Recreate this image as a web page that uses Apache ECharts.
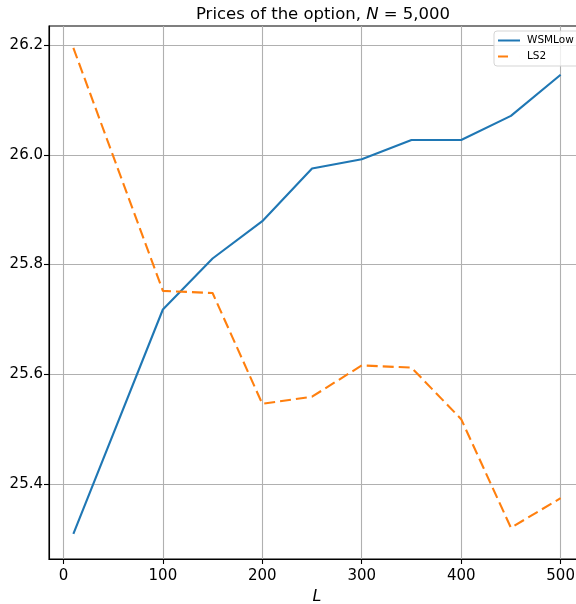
<!DOCTYPE html>
<html>
<head>
<meta charset="utf-8">
<script src="https://cdn.jsdelivr.net/npm/echarts@6/dist/echarts.min.js"></script>
<style>
html,body{margin:0;padding:0;background:#fff;}
#chart{width:576px;height:604px;}
</style>
</head>
<body>
<div id="chart"></div>
<script>
const L_values = [10, 100, 150, 200, 250, 300, 350, 400, 450, 500];
const wsmLow = [25.309, 25.718, 25.811, 25.879, 25.975, 25.992, 26.027, 26.027, 26.071, 26.146];
const ls2 = [26.195, 25.752, 25.748, 25.546, 25.559, 25.616, 25.612, 25.518, 25.320, 25.374];
const xTicks = [0, 100, 200, 300, 400, 500];
const yTicks = [25.4, 25.6, 25.8, 26.0, 26.2];

const font = 'DejaVu Sans';
const chart = echarts.init(document.getElementById('chart'), null, {renderer: 'canvas'});
chart.setOption({
  animation: false,
  backgroundColor: '#ffffff',
  textStyle: {fontFamily: font},
  title: {
    text: 'Prices of the option, {i|N} = 5,000',
    left: 318, top: 1, textAlign: 'center',
    textStyle: {
      fontFamily: font, fontSize: 16.5, fontWeight: 'normal', color: '#000',
      rich: {i: {fontFamily: font, fontStyle: 'italic', fontSize: 16.5, color: '#000'}}
    }
  },
  legend: {
    orient: 'vertical',
    left: 494, top: 31,
    itemWidth: 22, itemHeight: 2, itemGap: 5,
    padding: [4, 20, 4, 4],
    borderColor: '#d5d5d5', borderWidth: 1, borderRadius: 3,
    backgroundColor: 'rgba(255,255,255,0.8)',
    textStyle: {fontFamily: font, fontSize: 10.5, color: '#000', padding: [0, 0, 0, 2], lineHeight: 11},
    data: [
      {name: 'WSMLow', icon: 'rect', itemStyle: {color: '#1f77b4'}},
      {name: 'LS2', icon: 'path://M0,0h10v2h-10z M21.99,0h0.01v2h-0.01z', itemStyle: {color: '#ff7f0e'}}
    ]
  },
  grid: {left: 49, top: 26, right: -9, bottom: 45, containLabel: false, outerBoundsMode: 'none',
    show: true, borderColor: '#000', borderWidth: 1.1, backgroundColor: 'transparent'},
  xAxis: {
    type: 'value', min: -14.5, max: 524.5,
    name: 'L', nameLocation: 'middle', nameGap: 27,
    nameTextStyle: {fontFamily: font, fontStyle: 'italic', fontSize: 16, color: '#000'},
    axisLine: {show: true, onZero: false, lineStyle: {color: '#000', width: 1.1}},
    axisTick: {show: true, length: 5, lineStyle: {color: '#000', width: 1.1}, customValues: xTicks},
    axisLabel: {color: '#000', fontSize: 15, fontFamily: font, margin: 10, customValues: xTicks},
    splitLine: {show: true, lineStyle: {color: '#b0b0b0', width: 1.1}}
  },
  yAxis: {
    type: 'value', min: 25.263, max: 26.235,
    axisLine: {show: true, onZero: false, lineStyle: {color: '#000', width: 1.1}},
    axisTick: {show: true, length: 5, lineStyle: {color: '#000', width: 1.1}, customValues: yTicks},
    axisLabel: {color: '#000', fontSize: 15, fontFamily: font, margin: 6, customValues: yTicks,
      formatter: v => v.toFixed(1)},
    splitLine: {show: true, lineStyle: {color: '#b0b0b0', width: 1.1}}
  },
  series: [
    {
      name: 'WSMLow', type: 'line', symbol: 'none',
      data: L_values.map((x, i) => [x, wsmLow[i]]),
      lineStyle: {color: '#1f77b4', width: 2.1},
      itemStyle: {color: '#1f77b4'}
    },
    {
      name: 'LS2', type: 'line', symbol: 'none',
      data: L_values.map((x, i) => [x, ls2[i]]),
      lineStyle: {color: '#ff7f0e', width: 2.1, type: [11, 5]},
      itemStyle: {color: '#ff7f0e'}
    }
  ]
});
</script>
</body>
</html>
